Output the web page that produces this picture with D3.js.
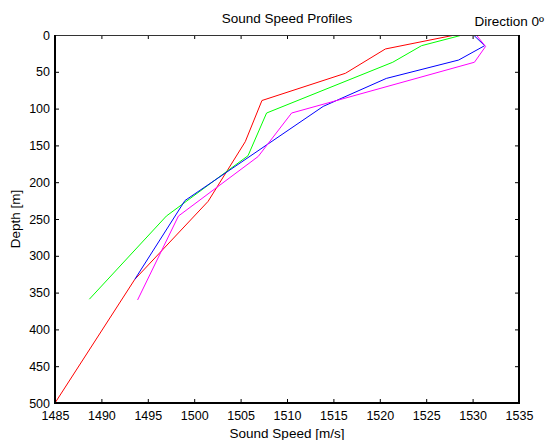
<!DOCTYPE html>
<html>
<head>
<meta charset="utf-8">
<script src="https://cdn.jsdelivr.net/npm/d3@7"></script>
<style>
  html, body { margin: 0; padding: 0; background: #ffffff; }
  svg { display: block; font-family: "Liberation Sans", Arial, sans-serif; }
</style>
</head>
<body>
<svg id="chart" width="545" height="440"></svg>
<script>
// ---- Data ----
const title = "Sound Speed Profiles";
const subtitle = "Direction 0º";
const xLabel = "Sound Speed [m/s]";
const yLabel = "Depth [m]";
const xTicks = [1485, 1490, 1495, 1500, 1505, 1510, 1515, 1520, 1525, 1530, 1535];
const yTicks = [0, 50, 100, 150, 200, 250, 300, 350, 400, 450, 500];

const seriesNames = ["red", "green", "blue", "magenta"];
const redSpeed   = [1528.1, 1520.6, 1516.3, 1507.3, 1505.5, 1501.5, 1493.6, 1485.0];
const redDepth   = [0, 19, 52, 89, 145, 226, 332, 500];
const greenSpeed = [1528.9, 1524.5, 1521.4, 1507.8, 1505.8, 1497.0, 1488.7];
const greenDepth = [0, 14.5, 37, 106, 164, 246, 359];
const blueSpeed  = [1530.1, 1531.3, 1528.5, 1520.7, 1513.9, 1499.0, 1493.6];
const blueDepth  = [0, 14.5, 34, 59, 97, 225, 332];
const magSpeed   = [1530.4, 1531.4, 1530.2, 1510.5, 1506.9, 1498.3, 1493.9];
const magDepth   = [0, 15.5, 37, 106, 165, 246, 360];
const colors = ["#ff0000", "#00ff00", "#0000ff", "#ff00ff"];

const series = [
  { speed: redSpeed, depth: redDepth },
  { speed: greenSpeed, depth: greenDepth },
  { speed: blueSpeed, depth: blueDepth },
  { speed: magSpeed, depth: magDepth }
];

// ---- Layout ----
const pL = 55, pR = 519, pT = 35, pB = 403;
const svg = d3.select("#chart");
const x = d3.scaleLinear().domain([1485, 1535]).range([pL, pR]);
const y = d3.scaleLinear().domain([0, 500]).range([pT, pB]);

// Lines (clipped to plot)
svg.append("clipPath").attr("id", "clip")
  .append("rect").attr("x", pL).attr("y", pT)
  .attr("width", pR - pL).attr("height", pB - pT);

const line = d3.line().x(d => x(d[0])).y(d => y(d[1]));
const g = svg.append("g").attr("clip-path", "url(#clip)");
series.forEach((s, i) => {
  const pts = s.speed.map((v, k) => [v, s.depth[k]]);
  g.append("path").attr("d", line(pts))
    .attr("fill", "none").attr("stroke", colors[i]).attr("stroke-width", 1);
});

// Axes: bottom (labels), top (ticks only), left (labels), right (ticks only)
const tickLen = 4;
const xb = svg.append("g").attr("transform", `translate(0,${pB})`)
  .call(d3.axisBottom(x).tickValues(xTicks).tickSizeInner(-tickLen).tickSizeOuter(0).tickPadding(8).tickFormat(d3.format("d")));
const xt = svg.append("g").attr("transform", `translate(0,${pT})`)
  .call(d3.axisTop(x).tickValues(xTicks).tickSizeInner(-tickLen).tickSizeOuter(0).tickFormat(""));
const yl = svg.append("g").attr("transform", `translate(${pL},0)`)
  .call(d3.axisLeft(y).tickValues(yTicks).tickSizeInner(-tickLen).tickSizeOuter(0).tickPadding(5).tickFormat(d3.format("d")));
const yr = svg.append("g").attr("transform", `translate(${pR},0)`)
  .call(d3.axisRight(y).tickValues(yTicks).tickSizeInner(-tickLen).tickSizeOuter(0).tickFormat(""));

[xb, xt, yl, yr].forEach(a => {
  a.select(".domain").remove();
  a.selectAll(".tick line").attr("stroke", "#000").attr("stroke-width", 1);
  a.selectAll("text").attr("fill", "#000").style("font-size", "12.5px")
    .style("font-family", '"Liberation Sans", Arial, sans-serif');
});

// Box
svg.append("line").attr("x1", pL).attr("x2", pR).attr("y1", pT + 0.5).attr("y2", pT + 0.5)
  .attr("stroke", "#333").attr("stroke-width", 1);
svg.append("line").attr("x1", pL - 1).attr("x2", pR + 1).attr("y1", pB).attr("y2", pB)
  .attr("stroke", "#000").attr("stroke-width", 2);
svg.append("line").attr("x1", pL).attr("x2", pL).attr("y1", pT).attr("y2", pB)
  .attr("stroke", "#000").attr("stroke-width", 2);
svg.append("line").attr("x1", pR).attr("x2", pR).attr("y1", pT).attr("y2", pB)
  .attr("stroke", "#000").attr("stroke-width", 2);

// Titles
svg.append("text").attr("x", (pL + pR) / 2).attr("y", 23).attr("text-anchor", "middle")
  .style("font-size", "13.5px").text(title);
svg.append("text").attr("x", 544).attr("y", 26).attr("text-anchor", "end")
  .style("font-size", "13.5px").text(subtitle);
svg.append("text").attr("x", (pL + pR) / 2).attr("y", 438).attr("text-anchor", "middle")
  .style("font-size", "13.5px").text(xLabel);
svg.append("text").attr("transform", `translate(20,${(pT + pB) / 2}) rotate(-90)`)
  .attr("text-anchor", "middle").style("font-size", "13.5px").text(yLabel);
</script>
</body>
</html>
